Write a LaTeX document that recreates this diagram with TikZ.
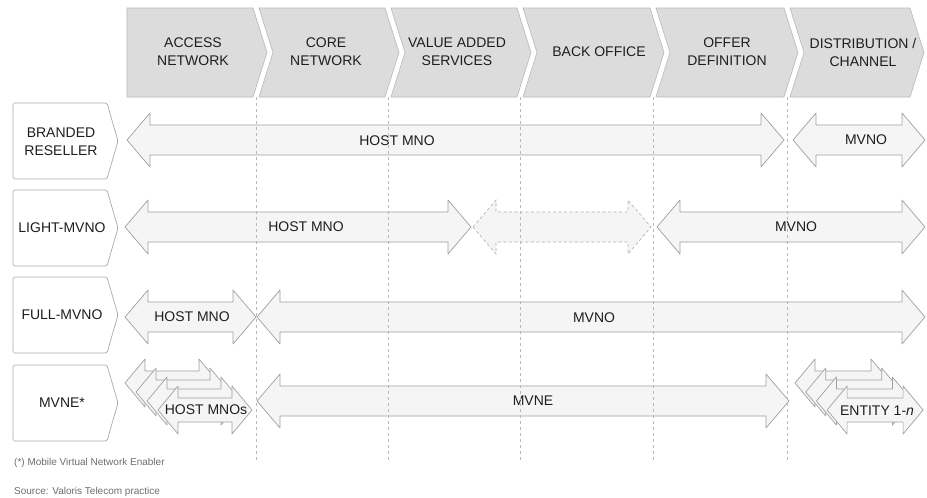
\documentclass[tikz,border=0pt]{standalone}
\usepackage{fontspec}
\setmainfont{Liberation Sans}
\usepackage{tikz}

% double headed block arrow from x=#2 to x=#3 at height #4
\newcommand\twoway[4][]{%
  \path[#1] (#2,#4) -- ++(\ahl,-\ahw) -- ++(0,\ahw-\asw) -- (#3-\ahl,#4-\asw)
    -- ++(0,\asw-\ahw) -- (#3,#4) -- ++(-\ahl,\ahw) -- ++(0,\asw-\ahw)
    -- (#2+\ahl,#4+\asw) -- ++(0,\ahw-\asw) -- cycle;}
\def\ahw{27}\def\asw{15}\def\ahl{23}

% header chevron between x=#1 and x=#2
\newcommand\chevron[2]{%
  \path[chev] (#1+3,8) -- (#2-3,8) -- (#2+11,52.5) -- (#2-3,97) -- (#1+3,97)
    -- (#1+17,52.5) -- cycle;}

% row label with a pointed right side, centred at height #1
\newcommand\rowtag[1]{%
  \path[tag] (13,#1-38) -- (107,#1-38) -- (118,#1) -- (107,#1+38) -- (13,#1+38) -- cycle;}

\tikzset{
  chev/.style={draw=chevLine,fill=chevFill,line width=0.6pt},
  tag/.style={draw=tagLine,fill=white,line width=0.7pt,rounded corners=1.5pt},
  band/.style={draw=bandLine,fill=bandFill,line width=0.7pt,line join=round},
  ghost/.style={draw=ghostLine,fill=bandFill,line width=0.6pt,dash pattern=on 3pt off 2.5pt},
  lane/.style={draw=laneLine,line width=0.6pt,dash pattern=on 3pt off 3pt},
  txt/.style={text=textColor,font=\fontsize{14}{18}\selectfont,align=center,inner sep=0pt},
  note/.style={text=noteColor,font=\fontsize{10}{12}\selectfont,anchor=west,inner sep=0pt}
}

\begin{document}
\begin{tikzpicture}[x=1pt,y=-1pt]
\definecolor{chevFill}{RGB}{220,220,220}
\definecolor{chevLine}{RGB}{185,185,185}
\definecolor{tagLine}{RGB}{170,170,170}
\definecolor{bandFill}{RGB}{245,245,245}
\definecolor{bandLine}{RGB}{160,160,160}
\definecolor{ghostLine}{RGB}{175,175,175}
\definecolor{laneLine}{RGB}{185,185,185}
\definecolor{textColor}{RGB}{30,30,30}
\definecolor{noteColor}{RGB}{110,110,110}
\path[use as bounding box,fill=white] (0,0) rectangle (927,498);

% value chain header
\path[chev] (127,8) -- (253,8) -- (267,52.5) -- (253,97) -- (127,97) -- cycle;
\chevron{256}{388}
\chevron{388}{520}
\chevron{520}{653}
\chevron{653}{787}
\chevron{787}{913}
\node[txt] (access) at (193,52) {ACCESS\\NETWORK};
\node[txt] (core) at (326,52) {CORE\\NETWORK};
\node[txt] (vas) at (457,52) {VALUE ADDED\\SERVICES};
\node[txt] (back) at (599,52) {BACK OFFICE};
\node[txt] (offer) at (727,52) {OFFER\\DEFINITION};
\node[txt] (distrib) at (863,52) {DISTRIBUTION /\\CHANNEL};

% row labels
\rowtag{141}
\rowtag{228}
\rowtag{315}
\rowtag{403}
\node[txt] (branded) at (61,142) {BRANDED\\RESELLER};
\node[txt] (light) at (62,228) {LIGHT-MVNO};
\node[txt] (full) at (62,315) {FULL-MVNO};
\node[txt] (mvne) at (62,403) {MVNE*};

% branded reseller
\twoway[band]{127}{784}{140}
\twoway[band]{793}{925}{140}
\node[txt] (brHost) at (397,141) {HOST MNO};
\node[txt] (brOwn) at (866,140) {MVNO};

% light MVNO
\twoway[band]{125}{471}{227}
\twoway[ghost]{473}{651}{227}
\twoway[band]{657}{925}{227}
\node[txt] (ltHost) at (306,227) {HOST MNO};
\node[txt] (ltOwn) at (796,227) {MVNO};

% full MVNO
\twoway[band]{125}{256}{317}
\twoway[band]{257}{925}{317}
\node[txt] (flHost) at (192,317) {HOST MNO};
\node[txt] (flOwn) at (594,318) {MVNO};

% MVNE
\twoway[band]{257}{789}{401}
\node[txt] (enOwn) at (533,401) {MVNE};
{\def\ahw{24}\def\asw{12}\def\ahl{20}
 \foreach \k in {0,1,2,3} {
   \twoway[band]{125+11*\k}{219+11*\k}{383+9*\k}
   \twoway[band]{795+10.7*\k}{891+10.7*\k}{383+9*\k}
 }}
\node[txt] (enHosts) at (206,410) {HOST MNOs};
\node[txt] (enEnt) at (877,411) {ENTITY 1-\textit{n}};

% column separators
\foreach \x in {256,388,520,653,787}
  \path[lane] (\x,97) -- (\x,460);

% footnotes
\node[note] (fnote) at (14,463) {(*) Mobile Virtual Network Enabler};
\node[note] (source) at (14,492) {Source: Valoris Telecom practice};
\end{tikzpicture}
\end{document}
